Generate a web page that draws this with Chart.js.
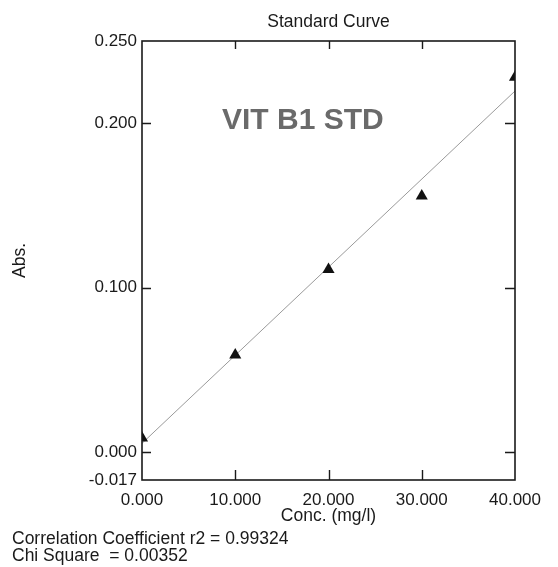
<!DOCTYPE html>
<html>
<head>
<meta charset="utf-8">
<script src="https://cdn.jsdelivr.net/npm/chart.js@4/dist/chart.umd.min.js"></script>
<style>
  html, body { margin: 0; padding: 0; background: #fff; }
  #wrap { width: 558px; height: 567px; position: relative; }
</style>
</head>
<body>
<div id="wrap"><canvas id="c" width="558" height="567"></canvas></div>
<script>
// ---- data ----
const concX = [0, 10, 20, 30, 40];
const absY = [0.0085, 0.059, 0.111, 0.1557, 0.228];
const yTickValues = [-0.017, 0.000, 0.100, 0.200, 0.250];
const xTickValues = [0, 10, 20, 30, 40];
const innerYTicks = [0.000, 0.100, 0.200];
const innerXTicks = [10, 20, 30];
const chartTitle = 'Standard Curve';
const xTitle = 'Conc. (mg/l)';
const yTitle = 'Abs.';
const annotationText = 'VIT B1 STD';
const footerLines = ['Correlation Coefficient r2 = 0.99324', 'Chi Square  = 0.00352'];

// least-squares fit line from the data
const n = concX.length;
const mx = concX.reduce((a, b) => a + b, 0) / n;
const my = absY.reduce((a, b) => a + b, 0) / n;
let sxy = 0, sxx = 0;
for (let i = 0; i < n; i++) { sxy += (concX[i] - mx) * (absY[i] - my); sxx += (concX[i] - mx) ** 2; }
const slope = sxy / sxx;
const intercept = my - slope * mx;
const fitX = [concX[0], concX[n - 1]];
const fitPts = fitX.map(x => ({ x, y: intercept + slope * x }));

const FONT = "'Liberation Sans', Arial, sans-serif";
const INK = '#1a1a1a';

const framePlugin = {
  id: 'frame',
  afterDatasetsDraw(chart) {
    const { ctx, chartArea: a, scales } = chart;
    const xs = scales.x, ys = scales.y;
    ctx.save();
    ctx.strokeStyle = INK;
    ctx.lineWidth = 1.6;
    ctx.strokeRect(a.left, a.top, a.right - a.left, a.bottom - a.top);
    ctx.lineWidth = 1.4;
    ctx.beginPath();
    innerYTicks.forEach(v => {
      const py = Math.round(ys.getPixelForValue(v)) + 0.5;
      ctx.moveTo(a.left, py); ctx.lineTo(a.left + 9, py);
      ctx.moveTo(a.right, py); ctx.lineTo(a.right - 10, py);
    });
    innerXTicks.forEach(v => {
      const px = Math.round(xs.getPixelForValue(v)) + 0.5;
      ctx.moveTo(px, a.top); ctx.lineTo(px, a.top + 8);
      ctx.moveTo(px, a.bottom); ctx.lineTo(px, a.bottom - 10);
    });
    ctx.stroke();
    ctx.restore();
  },
  afterDraw(chart) {
    const { ctx, chartArea: a } = chart;
    ctx.save();
    ctx.fillStyle = INK;
    ctx.font = "17.5px " + FONT;
    ctx.textBaseline = 'middle';
    ctx.textAlign = 'center';
    ctx.fillText(chartTitle, (a.left + a.right) / 2, 22);
    ctx.textAlign = 'left';
    ctx.fillStyle = '#6a6a6a';
    ctx.font = "bold 30px " + FONT;
    ctx.fillText(annotationText, 222, 121);
    ctx.fillStyle = INK;
    ctx.font = "17.5px " + FONT;
    ctx.fillText(footerLines[0], 12, 539);
    ctx.fillText(footerLines[1], 12, 556);
    ctx.restore();
  }
};

new Chart(document.getElementById('c'), {
  type: 'scatter',
  data: {
    datasets: [
      {
        label: 'Fit',
        type: 'line',
        data: fitPts,
        borderColor: '#9a9a9a',
        borderWidth: 1,
        pointRadius: 0,
        fill: false,
        clip: 0,
        order: 2
      },
      {
        label: 'Standards',
        data: concX.map((x, i) => ({ x, y: absY[i] })),
        pointStyle: 'triangle',
        pointRadius: 7,
        pointBackgroundColor: '#111',
        pointBorderColor: '#111',
        borderWidth: 0,
        clip: 0,
        order: 1
      }
    ]
  },
  options: {
    responsive: false,
    animation: false,
    devicePixelRatio: 1,
    layout: { padding: { left: 0, right: 43, top: 41, bottom: 36 } },
    plugins: {
      legend: { display: false },
      tooltip: { enabled: false },
      title: { display: false, text: chartTitle }
    },
    scales: {
      x: {
        type: 'linear',
        min: 0,
        max: 40,
        afterBuildTicks: s => { s.ticks = xTickValues.map(v => ({ value: v })); },
        afterFit: s => { s.height = 51; },
        grid: { display: false, drawTicks: false },
        border: { display: false },
        ticks: {
          color: INK,
          font: { family: FONT, size: 17 },
          padding: 10,
          maxRotation: 0,
          callback: v => Number(v).toFixed(3)
        },
        title: {
          display: true,
          text: xTitle,
          color: INK,
          font: { family: FONT, size: 17.5 },
          padding: { top: 0, bottom: 4 }
        }
      },
      y: {
        type: 'linear',
        min: -0.017,
        max: 0.25,
        afterBuildTicks: s => { s.ticks = yTickValues.map(v => ({ value: v })); },
        afterFit: s => { s.width = 142; },
        grid: { display: false, drawTicks: false },
        border: { display: false },
        ticks: {
          color: INK,
          font: { family: FONT, size: 17 },
          padding: 5,
          autoSkip: false,
          callback: v => Number(v).toFixed(3)
        },
        title: {
          display: true,
          text: yTitle,
          color: INK,
          font: { family: FONT, size: 17.5 },
          padding: { top: 10, bottom: 0 }
        }
      }
    }
  },
  plugins: [framePlugin]
});
</script>
</body>
</html>
